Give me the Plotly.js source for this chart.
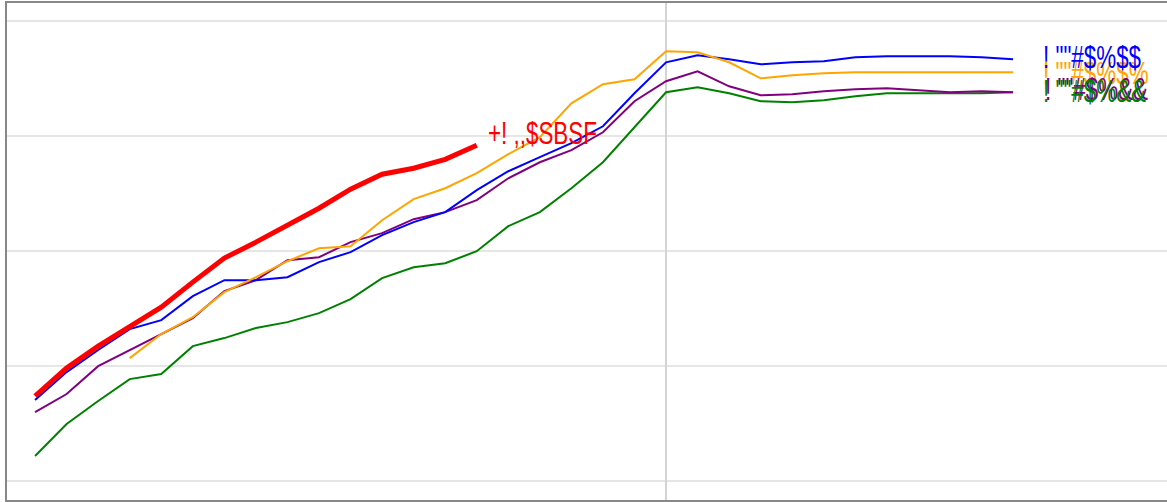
<!DOCTYPE html>
<html>
<head>
<meta charset="utf-8">
<script src="https://cdn.plot.ly/plotly-3.0.1.min.js"></script>
<style>html,body{margin:0;padding:0;background:#fff;}#chart{width:1167px;height:502px;}</style>
</head>
<body>
<div id="chart"></div>
<script>
// x positions (index offset so the zero line sits where the reference shows it)
const xAll = [-20,-19,-18,-17,-16,-15,-14,-13,-12,-11,-10,-9,-8,-7,-6,-5,-4,-3,-2,-1,0,1,2,3,4,5,6,7,8,9,10,11];
const xRed = xAll.slice(0, 15);
const xOrange = xAll.slice(3);

const redVals = [7.37,9.80,11.71,13.37,15.10,17.28,19.37,20.76,22.23,23.71,25.37,26.67,27.19,27.97,29.19];
const blueVals = [7.02,9.45,11.37,13.19,13.97,16.06,17.45,17.45,17.71,19.02,19.89,21.37,22.50,23.37,25.28,26.93,28.15,29.37,30.84,33.71,36.41,37.02,36.67,36.23,36.41,36.50,36.84,36.93,36.93,36.93,36.84,36.67];
const purpleVals = [5.97,7.54,9.97,11.37,12.76,14.15,16.50,17.45,19.19,19.45,20.76,21.54,22.76,23.37,24.41,26.32,27.71,28.76,30.32,33.02,34.76,35.63,34.32,33.54,33.63,33.89,34.06,34.15,33.97,33.80,33.89,33.80];
const orangeVals = [10.67,12.76,14.23,16.41,17.71,19.10,20.23,20.41,22.67,24.50,25.45,26.76,28.41,29.89,32.84,34.50,34.93,37.37,37.28,36.41,35.02,35.28,35.45,35.54,35.54,35.54,35.54,35.54,35.54];
const greenVals = [2.15,4.93,6.93,8.84,9.28,11.71,12.41,13.28,13.80,14.58,15.80,17.63,18.58,18.93,19.97,22.15,23.37,25.45,27.71,30.76,33.80,34.23,33.71,33.02,32.93,33.10,33.45,33.71,33.71,33.71,33.71,33.80];

const redLabel = "+! ,,$SBSF";
const blueLabel = '! ""#$%$$';
const orangeLabel = '! ""#$%$%';
const purpleLabel = '! ""#$%&&';
const greenLabel = '! ""#$%&&';

const FONT = "Liberation Sans, Arial, sans-serif";
const SQUEEZE = 0.7;

const traces = [
  {x: xAll, y: greenVals, mode: 'lines', line: {color: 'green', width: 2}},
  {x: xAll, y: purpleVals, mode: 'lines', line: {color: 'purple', width: 2}},
  {x: xAll, y: blueVals, mode: 'lines', line: {color: 'blue', width: 2}},
  {x: xOrange, y: orangeVals, mode: 'lines', line: {color: 'orange', width: 2}},
  {x: xRed, y: redVals, mode: 'lines', line: {color: 'red', width: 5}}
];

function lab(text, x, y, color, xshift) {
  return {x: x, y: y, text: text, showarrow: false, xanchor: 'left', yanchor: 'middle',
    xshift: xshift, font: {family: FONT, size: 32, color: color}};
}

const layout = {
  width: 1167, height: 502,
  margin: {l: 7, r: 0, t: 3, b: 2, pad: 0},
  showlegend: false,
  paper_bgcolor: '#fff', plot_bgcolor: '#fff',
  xaxis: {range: [-20.89, 15.88], showgrid: false, zeroline: true, zerolinecolor: '#d4d4d4', zerolinewidth: 2,
    showticklabels: false, ticks: '', showline: true, mirror: true, linecolor: '#888', linewidth: 2},
  yaxis: {range: [-1.68, 41.57], dtick: 10, tick0: 0, showgrid: true, gridcolor: '#e6e6e6', gridwidth: 2,
    zeroline: false, showticklabels: false, ticks: '', showline: true, linecolor: '#888', linewidth: 2},
  annotations: [
    lab(orangeLabel, 11, 35.45, 'orange', 28),
    lab(blueLabel, 11, 36.84, 'blue', 28),
    lab(purpleLabel, 11, 34.05, 'purple', 30),
    lab(greenLabel, 11, 33.9, 'green', 28),
    lab(redLabel, -6, 30.23, 'red', 9)
  ]
};

Plotly.newPlot('chart', traces, layout, {staticPlot: true, displayModeBar: false}).then(function () {
  document.querySelectorAll('#chart text.annotation-text').forEach(function (t) {
    const b = t.getBBox();
    const prev = t.getAttribute('transform') || '';
    t.setAttribute('transform', prev + ' translate(' + (b.x * (1 - SQUEEZE)) + ',0) scale(' + SQUEEZE + ',1)');
  });
});
</script>
</body>
</html>
